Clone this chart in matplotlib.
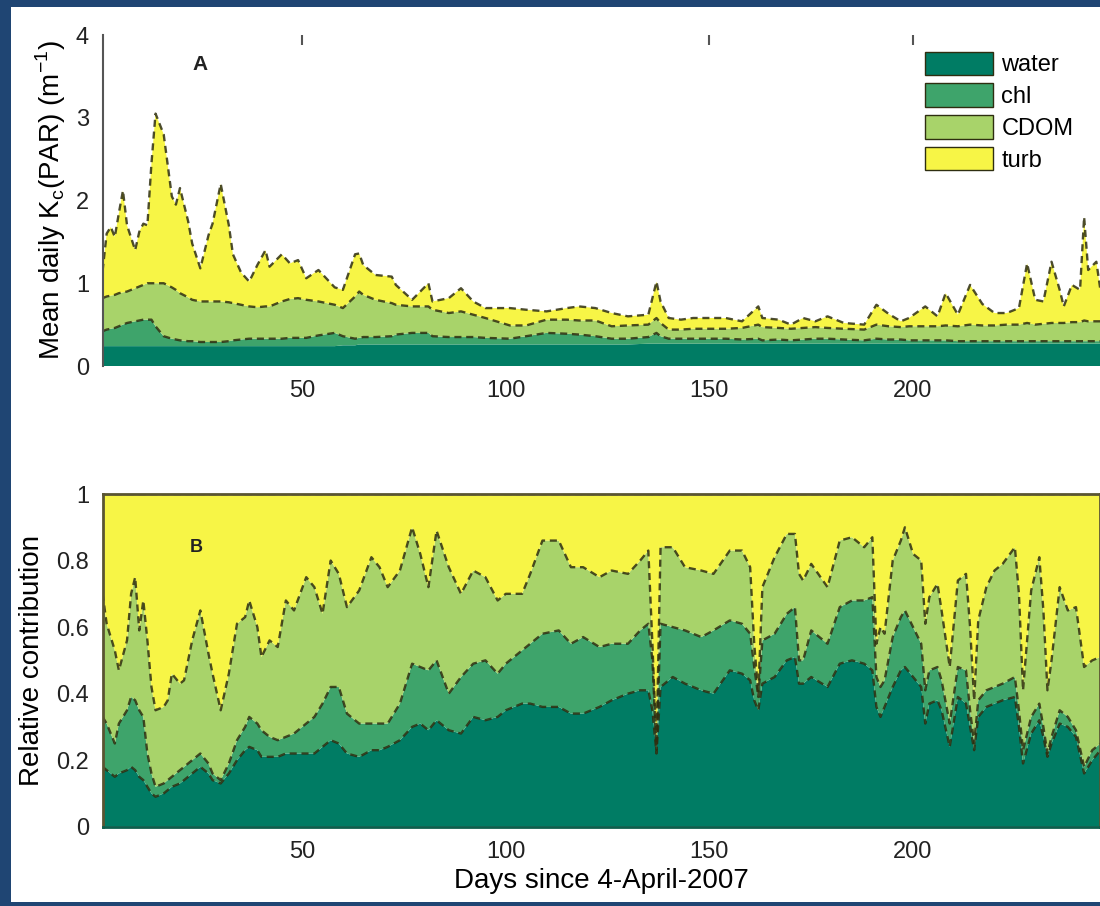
import numpy as np
import matplotlib
matplotlib.use("Agg")
import matplotlib.pyplot as plt
from matplotlib.patches import Patch, Rectangle

plt.rcParams['font.family'] = ['Liberation Sans', 'DejaVu Sans']

# --- panel A: mean daily Kc(PAR) per component (m^-1) ---
days_a = [1, 2, 3, 4, 5, 6, 7, 9, 10, 11,
          12, 13, 14, 16, 18, 19, 20, 22, 23, 25,
          27, 28, 30, 32, 33, 35, 37, 39, 41, 42,
          45, 47, 49, 51, 54, 58, 60, 63, 64, 65,
          68, 72, 73, 77, 81, 82, 86, 89, 92, 95,
          101, 105, 110, 115, 118, 122, 126, 130, 135, 137,
          138, 140, 143, 146, 154, 158, 162, 163, 167, 170,
          173, 176, 179, 183, 188, 191, 194, 197, 199, 203,
          206, 208, 211, 214, 217, 220, 223, 226, 228, 230,
          232, 234, 236, 237, 239, 241, 242, 243, 245, 246]
water_a = [0.24, 0.24, 0.24, 0.24, 0.24, 0.24, 0.24, 0.24, 0.24, 0.24,
           0.24, 0.24, 0.24, 0.24, 0.24, 0.24, 0.24, 0.24, 0.24, 0.24,
           0.24, 0.24, 0.24, 0.24, 0.24, 0.24, 0.24, 0.24, 0.24, 0.24,
           0.24, 0.24, 0.24, 0.24, 0.24, 0.24, 0.25, 0.25, 0.26, 0.26,
           0.26, 0.26, 0.26, 0.26, 0.26, 0.26, 0.26, 0.26, 0.26, 0.26,
           0.26, 0.26, 0.26, 0.26, 0.26, 0.26, 0.26, 0.26, 0.27, 0.27,
           0.27, 0.27, 0.27, 0.27, 0.27, 0.27, 0.27, 0.27, 0.27, 0.27,
           0.27, 0.27, 0.27, 0.27, 0.27, 0.27, 0.27, 0.27, 0.27, 0.27,
           0.27, 0.27, 0.27, 0.27, 0.27, 0.27, 0.27, 0.27, 0.27, 0.27,
           0.27, 0.27, 0.27, 0.27, 0.27, 0.27, 0.27, 0.27, 0.27, 0.27]
chl_a = [0.18, 0.20, 0.21, 0.22, 0.24, 0.26, 0.28, 0.30, 0.31, 0.32,
         0.32, 0.32, 0.24, 0.12, 0.09, 0.08, 0.07, 0.06, 0.06, 0.05,
         0.05, 0.05, 0.05, 0.06, 0.07, 0.08, 0.09, 0.09, 0.09, 0.09,
         0.09, 0.10, 0.10, 0.10, 0.13, 0.16, 0.11, 0.08, 0.08, 0.09,
         0.09, 0.10, 0.12, 0.14, 0.14, 0.10, 0.09, 0.09, 0.09, 0.08,
         0.07, 0.10, 0.14, 0.13, 0.12, 0.10, 0.07, 0.07, 0.08, 0.13,
         0.09, 0.06, 0.06, 0.06, 0.06, 0.05, 0.06, 0.04, 0.05, 0.04,
         0.05, 0.06, 0.06, 0.05, 0.04, 0.06, 0.05, 0.05, 0.04, 0.04,
         0.04, 0.04, 0.03, 0.03, 0.03, 0.03, 0.03, 0.03, 0.03, 0.03,
         0.03, 0.03, 0.03, 0.03, 0.03, 0.03, 0.03, 0.03, 0.03, 0.03]
cdom_a = [0.40, 0.40, 0.40, 0.40, 0.40, 0.39, 0.38, 0.40, 0.41, 0.42,
          0.44, 0.44, 0.52, 0.64, 0.62, 0.60, 0.57, 0.53, 0.50, 0.49,
          0.49, 0.49, 0.49, 0.47, 0.45, 0.42, 0.39, 0.38, 0.39, 0.39,
          0.45, 0.47, 0.48, 0.46, 0.41, 0.34, 0.34, 0.51, 0.56, 0.51,
          0.45, 0.40, 0.36, 0.32, 0.32, 0.32, 0.29, 0.31, 0.27, 0.24,
          0.16, 0.13, 0.16, 0.17, 0.17, 0.19, 0.15, 0.16, 0.15, 0.18,
          0.16, 0.11, 0.11, 0.12, 0.12, 0.14, 0.17, 0.16, 0.14, 0.14,
          0.14, 0.14, 0.13, 0.13, 0.13, 0.17, 0.16, 0.15, 0.17, 0.17,
          0.17, 0.18, 0.18, 0.20, 0.19, 0.19, 0.20, 0.20, 0.22, 0.20,
          0.21, 0.22, 0.22, 0.22, 0.23, 0.23, 0.25, 0.24, 0.24, 0.24]
turb_a = [0.33, 0.76, 0.83, 0.70, 0.97, 1.23, 0.80, 0.46, 0.66, 0.74,
          0.70, 1.45, 2.05, 1.80, 1.10, 1.03, 1.27, 0.92, 0.68, 0.40,
          0.80, 0.94, 1.42, 0.93, 0.59, 0.39, 0.30, 0.51, 0.68, 0.48,
          0.57, 0.43, 0.46, 0.26, 0.38, 0.21, 0.22, 0.51, 0.46, 0.36,
          0.30, 0.32, 0.24, 0.08, 0.28, 0.10, 0.18, 0.28, 0.16, 0.12,
          0.21, 0.19, 0.10, 0.14, 0.17, 0.15, 0.16, 0.11, 0.12, 0.44,
          0.26, 0.14, 0.12, 0.13, 0.13, 0.08, 0.22, 0.11, 0.10, 0.05,
          0.12, 0.07, 0.14, 0.07, 0.06, 0.24, 0.15, 0.07, 0.10, 0.24,
          0.12, 0.39, 0.14, 0.48, 0.26, 0.15, 0.14, 0.20, 0.72, 0.30,
          0.27, 0.74, 0.40, 0.20, 0.45, 0.39, 1.25, 0.62, 0.72, 0.38]

# --- panel B: relative contribution of each component ---
days_b = [1, 2, 4, 5, 7, 8, 9, 10, 11, 12,
          13, 14, 16, 17, 18, 20, 21, 23, 25, 27,
          28, 30, 32, 34, 36, 37, 39, 40, 42, 44,
          46, 48, 51, 53, 55, 57, 59, 61, 64, 67,
          69, 71, 74, 77, 79, 81, 83, 86, 89, 92,
          95, 98, 100, 104, 106, 109, 113, 116, 119, 123,
          126, 130, 133, 135, 136, 137, 138, 141, 144, 148,
          151, 155, 158, 160, 161, 162, 163, 166, 169, 171,
          172, 173, 175, 179, 182, 185, 188, 190, 191, 192,
          193, 195, 197, 198, 200, 202, 203, 204, 206, 207,
          209, 211, 213, 214, 215, 216, 218, 220, 222, 225,
          226, 227, 229, 231, 232, 233, 234, 236, 238, 240,
          242, 244, 246]
water_b = [0.18, 0.17, 0.15, 0.16, 0.17, 0.18, 0.17, 0.15, 0.14, 0.12,
           0.10, 0.09, 0.10, 0.11, 0.12, 0.13, 0.14, 0.16, 0.18, 0.16,
           0.14, 0.13, 0.16, 0.20, 0.23, 0.24, 0.23, 0.21, 0.21, 0.21,
           0.22, 0.22, 0.22, 0.22, 0.24, 0.26, 0.25, 0.22, 0.21, 0.23,
           0.23, 0.24, 0.26, 0.30, 0.31, 0.29, 0.32, 0.29, 0.28, 0.33,
           0.32, 0.33, 0.35, 0.37, 0.37, 0.36, 0.36, 0.34, 0.34, 0.36,
           0.38, 0.40, 0.41, 0.41, 0.35, 0.22, 0.42, 0.45, 0.43, 0.41,
           0.40, 0.47, 0.46, 0.44, 0.38, 0.35, 0.43, 0.45, 0.50, 0.51,
           0.43, 0.43, 0.45, 0.42, 0.49, 0.50, 0.49, 0.47, 0.36, 0.33,
           0.36, 0.42, 0.47, 0.48, 0.45, 0.42, 0.31, 0.37, 0.38, 0.35,
           0.24, 0.39, 0.37, 0.30, 0.23, 0.33, 0.36, 0.37, 0.38, 0.39,
           0.30, 0.19, 0.28, 0.32, 0.27, 0.21, 0.25, 0.31, 0.30, 0.27,
           0.16, 0.20, 0.23]
chl_b = [0.15, 0.14, 0.10, 0.15, 0.18, 0.21, 0.21, 0.20, 0.19, 0.10,
         0.06, 0.03, 0.03, 0.03, 0.03, 0.04, 0.04, 0.04, 0.04, 0.03,
         0.02, 0.01, 0.03, 0.06, 0.07, 0.09, 0.08, 0.08, 0.06, 0.05,
         0.05, 0.06, 0.09, 0.11, 0.13, 0.16, 0.17, 0.12, 0.10, 0.08,
         0.08, 0.07, 0.11, 0.19, 0.17, 0.18, 0.18, 0.11, 0.17, 0.16,
         0.18, 0.13, 0.14, 0.16, 0.18, 0.22, 0.23, 0.21, 0.23, 0.18,
         0.17, 0.15, 0.18, 0.20, 0.15, 0.01, 0.19, 0.15, 0.16, 0.16,
         0.19, 0.15, 0.15, 0.14, 0.10, 0.04, 0.13, 0.13, 0.14, 0.15,
         0.07, 0.07, 0.14, 0.13, 0.17, 0.18, 0.19, 0.22, 0.09, 0.09,
         0.08, 0.15, 0.16, 0.17, 0.15, 0.13, 0.10, 0.10, 0.10, 0.09,
         0.07, 0.09, 0.10, 0.05, 0.02, 0.05, 0.05, 0.05, 0.05, 0.06,
         0.05, 0.04, 0.05, 0.05, 0.03, 0.01, 0.02, 0.04, 0.03, 0.02,
         0.02, 0.03, 0.02]
cdom_b = [0.37, 0.30, 0.28, 0.16, 0.21, 0.31, 0.37, 0.24, 0.35, 0.34,
          0.26, 0.23, 0.23, 0.24, 0.31, 0.26, 0.26, 0.36, 0.43, 0.33,
          0.30, 0.21, 0.27, 0.35, 0.33, 0.35, 0.29, 0.22, 0.29, 0.28,
          0.41, 0.37, 0.44, 0.39, 0.27, 0.38, 0.34, 0.32, 0.40, 0.50,
          0.47, 0.41, 0.40, 0.41, 0.34, 0.25, 0.39, 0.38, 0.25, 0.28,
          0.25, 0.22, 0.21, 0.17, 0.21, 0.28, 0.27, 0.23, 0.21, 0.21,
          0.22, 0.21, 0.21, 0.22, 0.05, 0.01, 0.23, 0.24, 0.19, 0.20,
          0.17, 0.21, 0.22, 0.20, 0.07, 0.01, 0.16, 0.23, 0.24, 0.22,
          0.26, 0.24, 0.20, 0.17, 0.20, 0.19, 0.16, 0.18, 0.10, 0.18,
          0.14, 0.23, 0.23, 0.25, 0.22, 0.25, 0.20, 0.22, 0.25, 0.21,
          0.17, 0.26, 0.29, 0.25, 0.13, 0.24, 0.31, 0.35, 0.36, 0.39,
          0.35, 0.18, 0.38, 0.44, 0.35, 0.19, 0.23, 0.37, 0.32, 0.37,
          0.30, 0.27, 0.26]
turb_b = [0.30, 0.39, 0.47, 0.53, 0.44, 0.30, 0.25, 0.41, 0.32, 0.44,
          0.58, 0.65, 0.64, 0.62, 0.54, 0.57, 0.56, 0.44, 0.35, 0.48,
          0.54, 0.65, 0.54, 0.39, 0.37, 0.32, 0.40, 0.49, 0.44, 0.46,
          0.32, 0.35, 0.25, 0.28, 0.36, 0.20, 0.24, 0.34, 0.29, 0.19,
          0.22, 0.28, 0.23, 0.10, 0.18, 0.28, 0.11, 0.22, 0.30, 0.23,
          0.25, 0.32, 0.30, 0.30, 0.24, 0.14, 0.14, 0.22, 0.22, 0.25,
          0.23, 0.24, 0.20, 0.17, 0.45, 0.76, 0.16, 0.16, 0.22, 0.23,
          0.24, 0.17, 0.17, 0.22, 0.45, 0.60, 0.28, 0.19, 0.12, 0.12,
          0.24, 0.26, 0.21, 0.28, 0.14, 0.13, 0.16, 0.13, 0.45, 0.40,
          0.42, 0.20, 0.14, 0.10, 0.18, 0.20, 0.39, 0.31, 0.27, 0.35,
          0.52, 0.26, 0.24, 0.40, 0.62, 0.38, 0.28, 0.23, 0.21, 0.16,
          0.30, 0.59, 0.29, 0.19, 0.35, 0.59, 0.50, 0.28, 0.35, 0.34,
          0.52, 0.50, 0.49]

labels = ["water", "chl", "CDOM", "turb"]
colors = ["#007c64", "#3ea46b", "#a8d36a", "#f7f546"]
edge = "#2e2e10"

fig = plt.figure(figsize=(11, 9.06), dpi=100, facecolor="#1f4573")
fig.patches.append(Rectangle((11 / 1100, 4 / 906), 1, 895 / 906,
                             transform=fig.transFigure, facecolor="white",
                             edgecolor="none", zorder=-10))

ax1 = fig.add_axes([103 / 1100, 1 - 366 / 906, 997 / 1100, 331 / 906])
ax2 = fig.add_axes([103 / 1100, 1 - 826.7 / 906, 997 / 1100, 332.7 / 906])


def stacked(ax, days, layers, first_line=0):
    ax.stackplot(days, *layers, colors=colors, linewidth=0)
    tops = np.cumsum(layers, axis=0)
    # dashed boundary on top of each layer
    for top in tops[first_line:]:
        ax.plot(days, top, color=edge, lw=1.7, ls=(0, (3, 2)), alpha=0.85)


stacked(ax1, days_a, [water_a, chl_a, cdom_a, turb_a], first_line=1)
stacked(ax2, days_b, [water_b, chl_b, cdom_b, turb_b])

for ax in (ax1, ax2):
    ax.set_xlim(1.1, 245.9)
    ax.set_xticks([50, 100, 150, 200])
    ax.tick_params(length=0, labelsize=17, pad=10, colors="#222222")
    ax.set_facecolor("none")

# panel A: only the left axis line, short marks on the top edge
ax1.set_ylim(0, 4)
ax1.set_yticks([0, 1, 2, 3, 4])
for s in ("top", "right", "bottom"):
    ax1.spines[s].set_visible(False)
ax1.spines["left"].set_color("#555555")
ax1.spines["left"].set_linewidth(1.5)
top = ax1.secondary_xaxis("top")
top.set_xticks([50, 150, 200])
top.set_xticklabels([])
top.tick_params(direction="in", length=7, width=1.5, color="#555555")
top.spines["top"].set_visible(False)
ax1.set_ylabel(r"Mean daily K$_{\mathregular{c}}$(PAR) (m$^{\mathregular{-1}}$)",
               fontsize=20, labelpad=6)
ax1.text(0.097, 0.91, "A", transform=ax1.transAxes, fontsize=15,
         fontweight="bold", ha="center", va="center", color="#222222")

handles = [Patch(facecolor=c, edgecolor=edge, lw=1) for c in colors]
ax1.legend(handles, labels, loc="upper left", bbox_to_anchor=(0.824, 0.95),
           frameon=False, fontsize=17, handlelength=2.9, handleheight=1.15,
           handletextpad=0.35, labelspacing=0.3, borderpad=0, borderaxespad=0)

# panel B
ax2.set_ylim(0, 1)
ax2.set_yticks([0, 0.2, 0.4, 0.6, 0.8, 1])
ax2.set_yticklabels(["0", "0.2", "0.4", "0.6", "0.8", "1"])
for s in ax2.spines.values():
    s.set_color("#5a5532")
    s.set_linewidth(2)
ax2.spines["bottom"].set_color("#0d5e4c")
ax2.set_ylabel("Relative contribution", fontsize=20, labelpad=8)
ax2.set_xlabel("Days since 4-April-2007", fontsize=20, labelpad=4)
ax2.text(0.094, 0.838, "B", transform=ax2.transAxes, fontsize=13,
         fontweight="bold", ha="center", va="center", color="#222222")

fig.savefig("out.png", dpi=100, facecolor=fig.get_facecolor())
